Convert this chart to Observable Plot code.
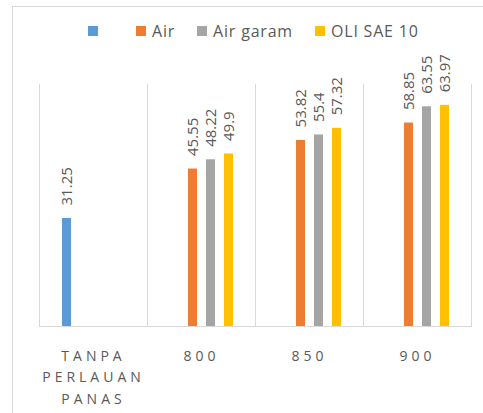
<!DOCTYPE html>
<html>
<head>
<meta charset="utf-8">
<script src="https://cdn.jsdelivr.net/npm/d3@7"></script>
<script src="https://cdn.jsdelivr.net/npm/@observablehq/plot@0.6"></script>
<style>
  html, body { margin: 0; padding: 0; background: #fff; }
  #wrap { position: relative; width: 483px; height: 413px; overflow: hidden; font-family: "Open Sans", sans-serif; }
  #border { position: absolute; left: 12px; top: 6px; width: 500px; height: 430px; border: 1px solid #d9d9d9; box-sizing: border-box; }
  #legend { position: absolute; left: 88px; top: 21px; height: 20px; display: flex; align-items: center; font-size: 16px; letter-spacing: 0.8px; color: #595959; white-space: nowrap; }
  #legend .item { display: flex; align-items: center; margin-right: 22px; }
  #legend .sw { width: 10px; height: 10px; }
  #legend .lb { margin-left: 6px; min-width: 10px; line-height: 20px; }
  #chart { position: absolute; left: 0; top: 44px; }
  #chart g[aria-label="fx-axis tick label"] text { letter-spacing: 4px; }
</style>
</head>
<body>
<div id="wrap">
  <div id="border"></div>
  <div id="legend"></div>
  <div id="chart"></div>
</div>
<script>
const categories = ["TANPA\nPERLAUAN\nPANAS", "800", "850", "900"];
const series = ["", "Air", "Air garam", "OLI SAE 10"];
const colors = ["#5B9BD5", "#ED7D31", "#A5A5A5", "#FFC000"];
const valuesBlank = [31.25, null, null, null];
const valuesAir = [null, 45.55, 53.82, 58.85];
const valuesAirGaram = [null, 48.22, 55.4, 63.55];
const valuesOli = [null, 49.9, 57.32, 63.97];

const seriesValues = [valuesBlank, valuesAir, valuesAirGaram, valuesOli];
const data = [];
categories.forEach((c, i) => {
  series.forEach((s, j) => {
    const v = seriesValues[j][i];
    if (v != null) data.push({cat: c, series: s, value: v});
  });
});

// legend
const legend = document.getElementById("legend");
series.forEach((s, j) => {
  const item = document.createElement("div");
  item.className = "item";
  const sw = document.createElement("div");
  sw.className = "sw";
  sw.style.background = colors[j];
  const lb = document.createElement("span");
  lb.className = "lb";
  lb.textContent = s;
  item.appendChild(sw);
  item.appendChild(lb);
  legend.appendChild(item);
});

const chart = Plot.plot({
  width: 483,
  height: 369,
  marginTop: 40,
  marginBottom: 87,
  marginLeft: 37,
  marginRight: 11,
  style: {fontFamily: "Open Sans, sans-serif", background: "transparent", overflow: "visible"},
  fx: {domain: categories, padding: 0, label: null, axis: null},
  x: {domain: series, paddingInner: 0.514, paddingOuter: 1.203, axis: null},
  y: {domain: [0, 70], axis: null},
  color: {domain: series, range: colors},
  marks: [
    Plot.frame({anchor: "left", stroke: "#d9d9d9"}),
    Plot.frame({anchor: "right", stroke: "#d9d9d9"}),
    Plot.ruleY([0], {stroke: "#d9d9d9"}),
    Plot.barY(data, {fx: "cat", x: "series", y: "value", fill: "series"}),
    Plot.text(data, {fx: "cat", x: "series", y: "value", text: d => String(d.value), rotate: -90, textAnchor: "start", dy: -13, fill: "#595959", fontSize: 15}),
    Plot.axisFx({anchor: "bottom", tickSize: 0, tickPadding: 19, fontSize: 14, lineHeight: 1.54, color: "#595959", label: null})
  ]
});
document.getElementById("chart").appendChild(chart);
</script>
</body>
</html>
